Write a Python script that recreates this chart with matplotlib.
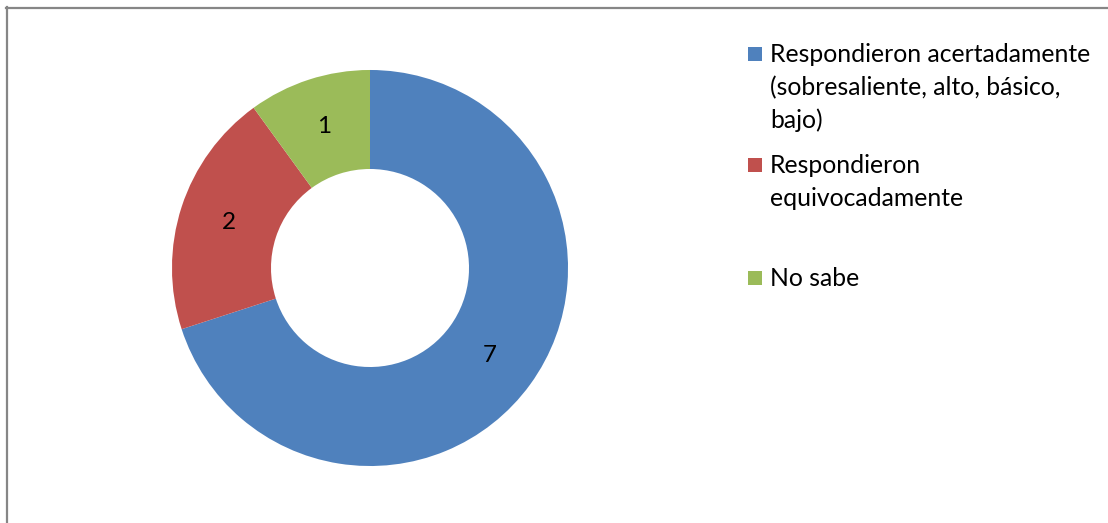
import matplotlib
matplotlib.use("Agg")
import matplotlib.pyplot as plt
import numpy as np
from matplotlib.lines import Line2D
from matplotlib.patches import Rectangle

# survey answers
labels = [
    "Respondieron acertadamente\n(sobresaliente, alto, básico,\nbajo)",
    "Respondieron\nequivocadamente",
    "No sabe",
]
values = [7, 2, 1]
colors = ["#4F81BD", "#C0504D", "#9BBB59"]

plt.rcParams["font.family"] = ["Lato", "DejaVu Sans"]

W, H = 1108, 523
fig = plt.figure(figsize=(W / 100, H / 100), dpi=100)

# donut centred at (370, 268) px, outer radius ~198 px
cx, cy, half = 370, 268, 200
ax = fig.add_axes([(cx - half) / W, (H - cy - half) / H, 2 * half / W, 2 * half / H])
wedges, _ = ax.pie(values, colors=colors, startangle=90, counterclock=False,
                   radius=1.0, wedgeprops=dict(width=0.5, linewidth=0))
ax.set_xlim(-1.01, 1.01)
ax.set_ylim(-1.01, 1.01)
ax.set_aspect("equal")
ax.axis("off")

# value labels in the middle of the ring
for w, v in zip(wedges, values):
    ang = np.deg2rad((w.theta1 + w.theta2) / 2)
    ax.text(0.75 * np.cos(ang), 0.75 * np.sin(ang), str(v),
            ha="center", va="center", fontsize=17.5, color="black")

# legend
entry_tops = [43, 154, 267]
for lab, col, top in zip(labels, colors, entry_tops):
    fig.patches.append(Rectangle((748 / W, 1 - (top + 18) / H), 14 / W, 14 / H,
                                 transform=fig.transFigure, facecolor=col,
                                 edgecolor="none"))
    fig.text(770 / W, 1 - top / H, lab, ha="left", va="top", fontsize=17.8,
             linespacing=1.5, color="black")

# chart area frame (top and left edges)
fig.lines.append(Line2D([6 / W, 1], [1 - 7.5 / H] * 2, transform=fig.transFigure,
                        color="#868686", lw=1.6))
fig.lines.append(Line2D([7 / W] * 2, [0, 1 - 7 / H], transform=fig.transFigure,
                        color="#868686", lw=1.6))

fig.savefig("out.png", dpi=100)
